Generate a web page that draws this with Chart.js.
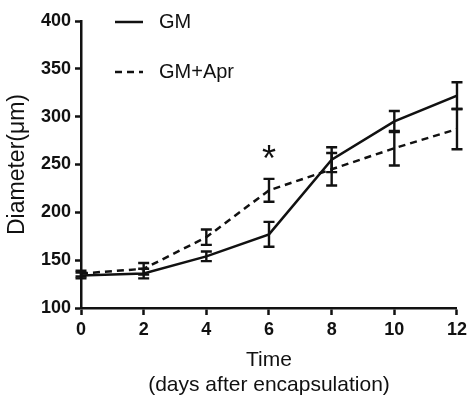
<!DOCTYPE html>
<html>
<head>
<meta charset="utf-8">
<script src="https://cdn.jsdelivr.net/npm/chart.js@4/dist/chart.umd.min.js"></script>
<style>
html,body{margin:0;padding:0;background:#fff;}
#wrap{width:471px;height:405px;position:relative;}
</style>
</head>
<body>
<div id="wrap"><canvas id="c" width="471" height="405"></canvas></div>
<script>
const days = [0, 2, 4, 6, 8, 10, 12];
const gmValues = [134, 136, 154, 177, 255, 295, 322];
const gmErrors = [3, 5, 5, 13, 13, 11, 14];
const aprValues = [136, 141, 174, 223, 245, 267, 287];
const aprErrors = [3, 6, 8, 12, 17, 18, 21];
const seriesLabels = ['GM', 'GM+Apr'];
const yTicks = [100, 150, 200, 250, 300, 350, 400];
const xTicks = [0, 2, 4, 6, 8, 10, 12];
const yTitle = 'Diameter(\u03bcm)';
const xTitle = ['Time', '(days after encapsulation)'];
const significance = { x: 6, y: 262, text: '*' };

const INK = '#111';

const errorBarPlugin = {
  id: 'errorBars',
  afterDatasetsDraw(chart) {
    const ctx = chart.ctx;
    const xs = chart.scales.x, ys = chart.scales.y;
    chart.data.datasets.forEach(ds => {
      const errs = ds.errors;
      ds.data.forEach((p, i) => {
        const x = xs.getPixelForValue(p.x);
        const yt = ys.getPixelForValue(p.y + errs[i]);
        const yb = ys.getPixelForValue(p.y - errs[i]);
        ctx.save();
        ctx.strokeStyle = INK;
        ctx.lineWidth = 2.4;
        ctx.setLineDash([]);
        ctx.beginPath();
        ctx.moveTo(x, yt); ctx.lineTo(x, yb);
        ctx.moveTo(x - 5.5, yt); ctx.lineTo(x + 5.5, yt);
        ctx.moveTo(x - 5.5, yb); ctx.lineTo(x + 5.5, yb);
        ctx.stroke();
        ctx.restore();
      });
    });
    // significance mark
    ctx.save();
    ctx.fillStyle = INK;
    ctx.font = '36px "Liberation Sans", Arial, sans-serif';
    ctx.textAlign = 'center';
    ctx.textBaseline = 'middle';
    ctx.fillText(significance.text, xs.getPixelForValue(significance.x), ys.getPixelForValue(significance.y) + 8);
    ctx.restore();
    // legend
    const area = chart.chartArea;
    ctx.save();
    ctx.font = '20px "Liberation Sans", Arial, sans-serif';
    ctx.textBaseline = 'middle';
    chart.data.datasets.forEach((ds, i) => {
      const y = [22, 72][i];
      ctx.strokeStyle = INK;
      ctx.lineWidth = 2.5;
      ctx.setLineDash(ds.borderDash || []);
      ctx.beginPath();
      ctx.moveTo(area.left + 34, y);
      ctx.lineTo(area.left + 62, y);
      ctx.stroke();
      ctx.setLineDash([]);
      ctx.fillStyle = INK;
      ctx.fillText(ds.label, area.left + 78, y);
    });
    ctx.restore();
  }
};

const toPts = vals => vals.map((v, i) => ({ x: days[i], y: v }));

new Chart(document.getElementById('c'), {
  type: 'line',
  data: {
    datasets: [
      { label: seriesLabels[0], data: toPts(gmValues), errors: gmErrors,
        borderColor: INK, borderWidth: 2.5, pointRadius: 0, fill: false, tension: 0 },
      { label: seriesLabels[1], data: toPts(aprValues), errors: aprErrors,
        borderColor: INK, borderWidth: 2.5, borderDash: [7, 5], pointRadius: 0, fill: false, tension: 0 }
    ]
  },
  options: {
    responsive: false,
    animation: false,
    devicePixelRatio: 1,
    layout: { padding: { top: 21, right: 14, left: 0, bottom: 0 } },
    plugins: { legend: { display: false }, tooltip: { enabled: false } },
    scales: {
      x: {
        type: 'linear', min: 0, max: 12,
        afterBuildTicks: s => { s.ticks = xTicks.map(v => ({ value: v })); },
        afterFit: s => { s.height = 97; },
        border: { display: true, color: INK, width: 2.5 },
        grid: { drawOnChartArea: false, drawTicks: true, tickLength: 7, tickWidth: 2.5, tickColor: INK },
        ticks: { color: INK, padding: 4, font: { family: '"Liberation Sans", Arial, sans-serif', size: 18, weight: 'bold' } },
        title: { display: true, text: xTitle, color: INK, padding: { top: 0, bottom: 7 },
          font: { family: '"Liberation Sans", Arial, sans-serif', size: 21, lineHeight: 1.2 } }
      },
      y: {
        type: 'linear', min: 100, max: 400,
        afterBuildTicks: s => { s.ticks = yTicks.map(v => ({ value: v })); },
        afterFit: s => { s.width = 81; },
        border: { display: true, color: INK, width: 2.5 },
        grid: { drawOnChartArea: false, drawTicks: true, tickLength: 6, tickWidth: 2.5, tickColor: INK },
        ticks: { color: INK, padding: 4, font: { family: '"Liberation Sans", Arial, sans-serif', size: 18, weight: 'bold' } },
        title: { display: true, text: yTitle, color: INK, padding: { top: 4, bottom: 0 },
          font: { family: '"Liberation Sans", Arial, sans-serif', size: 23, lineHeight: 1.2 } }
      }
    }
  },
  plugins: [errorBarPlugin]
});
</script>
</body>
</html>
